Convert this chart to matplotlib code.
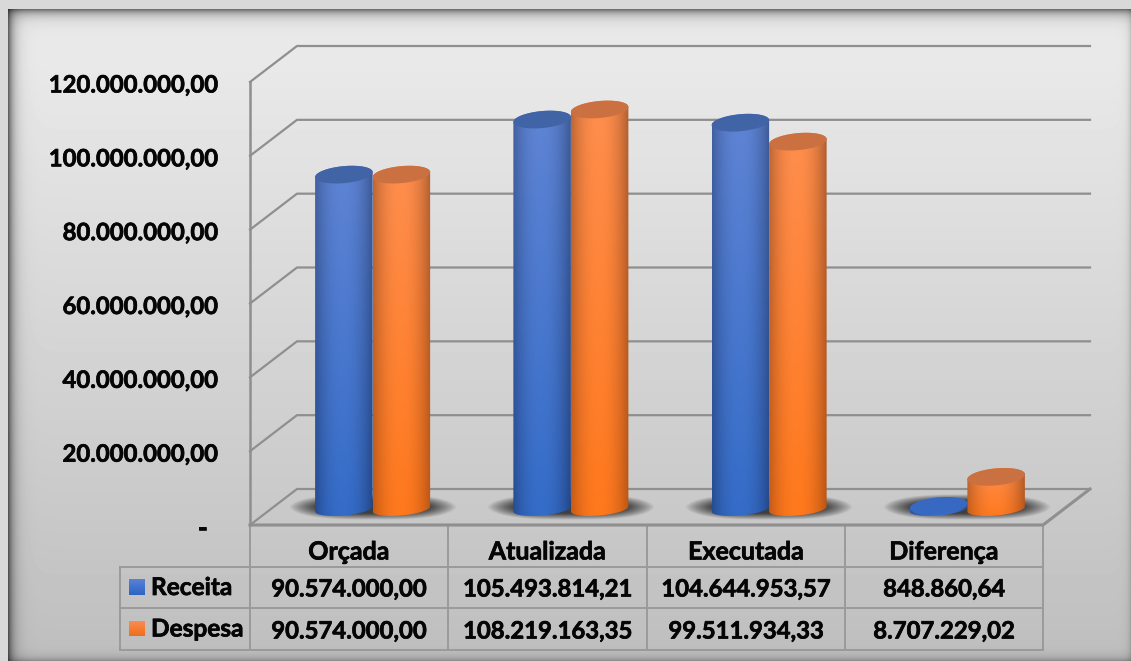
import numpy as np
import matplotlib
matplotlib.use("Agg")
import matplotlib.pyplot as plt
import matplotlib.patheffects as pe
from matplotlib.patches import Polygon

plt.rcParams['font.family'] = ['Lato', 'DejaVu Sans']

# ── Data ──────────────────────────────────────────
categories = ["Orçada", "Atualizada", "Executada", "Diferença"]
series_names = ["Receita", "Despesa"]
receita = [90574000.00, 105493814.21, 104644953.57, 848860.64]
despesa = [90574000.00, 108219163.35, 99511934.33, 8707229.02]
y_ticks = [0, 20000000, 40000000, 60000000, 80000000, 100000000, 120000000]

W, H = 1131, 661
GRID = "#8f8f8f"
INK = "#050505"
HEAVY = [pe.withStroke(linewidth=0.5, foreground=INK)]


def fmt_br(v):
    return f"{v:,.2f}".replace(",", "X").replace(".", ",").replace("X", ".")


def grad_bar(ax, verts, col_top, col_bot, edge_top, edge_bot, x0, x1, y0, y1, zorder):
    # cylinder body: dark at the sides, lighter in the middle
    u = np.linspace(0, 1, 80)
    v = np.linspace(0, 1, 60)
    prof = np.clip(np.abs(u - 0.48) / 0.52, 0, 1) ** 2.2
    img = np.zeros((60, 80, 3))
    for k in range(3):
        mid = col_top[k] + (col_bot[k] - col_top[k]) * v[:, None]
        edge = edge_top[k] + (edge_bot[k] - edge_top[k]) * v[:, None]
        img[:, :, k] = mid + (edge - mid) * prof[None, :]
    im = ax.imshow(img / 255, extent=(x0, x1, y0, y1), aspect="auto",
                   zorder=zorder, clip_on=True, interpolation="bilinear")
    patch = Polygon(verts, closed=True, transform=ax.transData, facecolor="none", edgecolor="none")
    ax.add_patch(patch)
    im.set_clip_path(patch)


fig = plt.figure(figsize=(W / 100, H / 100), dpi=100)

# ── Background panel (pixel coordinates) ──────────
bg = fig.add_axes([0, 0, 1, 1], zorder=0)
bg.set_xlim(0, W)
bg.set_ylim(H, 0)
bg.axis("off")

L, T = 8, 9
yy, xx = np.mgrid[0:H, 0:W]
base = 233 - 43 * np.clip((yy - 60) / (H - 60), 0, 1)
shade = (1 - 0.58 * np.exp(-np.clip(xx - L, 0, None) / 5.5))
shade = shade * (1 - 0.52 * np.exp(-np.clip(yy - T, 0, None) / 5.5))
shade = shade * (1 - 0.15 * np.exp(-(W - 1 - xx) / 3.0))
shade = shade * (1 - 0.25 * np.exp(-(H - 1 - yy) / 4.0))
panel = base * shade
panel[(xx < L) | (yy < T)] = 217
bg.imshow(panel, cmap="gray", vmin=0, vmax=255, extent=(0, W, H, 0), aspect="auto", zorder=0)

# ── Table ─────────────────────────────────────────
col_x = [250, 448, 647, 845, 1043]
row_y = [525, 567, 608, 650]
leg_x = 120
for y in row_y[1:]:
    bg.plot([leg_x, col_x[-1]], [y, y], color="#9a9a9a", lw=1.4, zorder=2)
bg.plot([leg_x, leg_x], [row_y[1], row_y[3]], color="#9a9a9a", lw=1.4, zorder=2)
for x in col_x:
    bg.plot([x, x], [row_y[0], row_y[3]], color="#9a9a9a", lw=1.4, zorder=2)

for i, name in enumerate(categories):
    xc = (col_x[i] + col_x[i + 1]) / 2
    bg.text(xc, 552, name, ha="center", va="center", fontsize=18,
            fontweight="bold", color=INK, zorder=3, path_effects=HEAVY)
    bg.text(xc, 589, fmt_br(receita[i]), ha="center", va="center", fontsize=17.2,
            fontweight="bold", color=INK, zorder=3, path_effects=HEAVY)
    bg.text(xc, 631, fmt_br(despesa[i]), ha="center", va="center", fontsize=17.2,
            fontweight="bold", color=INK, zorder=3, path_effects=HEAVY)

swatches = [((88, 130, 215), (45, 100, 195), 579, 595), ((250, 140, 80), (240, 110, 25), 621, 636)]
for name, (c0, c1, s0, s1) in zip(series_names, swatches):
    g = np.linspace(0, 1, 20)[:, None, None]
    img = (np.array(c0)[None, None, :] + (np.array(c1) - np.array(c0))[None, None, :] * g) / 255
    bg.imshow(img, extent=(129, 145, s1, s0), aspect="auto", zorder=3)
    bg.text(151, (s0 + s1) / 2 + 0.5, name, ha="left", va="center", fontsize=17.6,
            fontweight="bold", color=INK, zorder=3, path_effects=HEAVY)
bg.set_xlim(0, W)
bg.set_ylim(H, 0)

# ── Chart axes: front plane of the 3D box ─────────
ax = fig.add_axes([250 / W, 1 - 525 / H, (1043 - 250) / W, (525 - 82) / H], zorder=1)
ax.patch.set_alpha(0)
px_x = (1043 - 250) / 4.0            # pixels per category
px_y = (525 - 82) / 120000000.0      # pixels per unit of value
depth_x = 47 / px_x
depth_y = 36 / px_y

for v in y_ticks:
    ax.plot([0, depth_x, 4 + depth_x], [v, v + depth_y, v + depth_y],
            color=GRID, lw=1.6, clip_on=False, zorder=1)
ax.plot([0, 0], [0, 120000000], color=GRID, lw=1.8, clip_on=False, zorder=1)
ax.plot([0, 4, 4 + depth_x], [0, 0, depth_y], color=GRID, lw=2.2, clip_on=False, zorder=1)

bar_w = 57.5 / px_x
ry = 8.5 / px_y
ry_low = 6.5 / px_y
tilt = 2.5 / px_y
base_y = 16 / px_y
shift_x = 23.5 / px_x
t = np.linspace(0, 2 * np.pi, 120)

# floor shadows
sy, sx = np.mgrid[-1:1:60j, -1:1:200j]
r = (np.abs(sx) ** 3 + np.abs(sy) ** 1.8) ** 0.55
sh = np.zeros((60, 200, 4))
sh[:, :, :3] = 0.2
sh[:, :, 3] = 0.92 * np.clip((1 - r) / 0.5, 0, 1) ** 0.9
for i in range(4):
    c = i + 0.5 + shift_x
    ax.imshow(sh, extent=(c - 84 / px_x, c + 84 / px_x, 5 / px_y, 31 / px_y),
              aspect="auto", zorder=2, interpolation="bilinear", clip_on=False)

styles = [
    {"top": (95, 132, 212), "bot": (52, 108, 200), "etop": (62, 90, 150), "ebot": (35, 70, 135),
     "cap": (64, 100, 165), "flat": (55, 105, 195), "off": -0.5},
    {"top": (255, 142, 78), "bot": (255, 120, 28), "etop": (175, 95, 50), "ebot": (185, 85, 20),
     "cap": (203, 112, 64), "flat": (203, 112, 64), "off": 0.5},
]
z = 3
for i in range(4):
    for vals, st in zip([receita, despesa], styles):
        v = vals[i]
        cx = i + 0.5 + shift_x + st["off"] * bar_w
        rx = bar_w / 2
        ang = np.linspace(np.pi, 2 * np.pi, 50)
        low = np.c_[cx + rx * np.cos(ang), base_y + ry_low * np.sin(ang) + tilt * np.cos(ang)]
        ang = np.linspace(0, np.pi, 50)
        upp = np.c_[cx + rx * np.cos(ang), base_y + v + ry * np.sin(ang) + tilt * np.cos(ang)]
        grad_bar(ax, np.r_[low, upp], st["top"], st["bot"], st["etop"], st["ebot"],
                 cx - rx, cx + rx, base_y - ry - tilt, base_y + v + ry + tilt, z)
        cap = np.c_[cx + rx * np.cos(t), base_y + v + ry * np.sin(t) + tilt * np.cos(t)]
        col = st["flat"] if v < 2000000 else st["cap"]
        ax.add_patch(Polygon(cap, closed=True, facecolor=np.array(col) / 255, edgecolor="none",
                             zorder=z + 0.5))
        z += 1

ax.set_xlim(0, 4)
ax.set_ylim(0, 120000000)
ax.set_xticks([])
ax.set_yticks(y_ticks, labels=[])
ax.tick_params(axis="y", length=0)
for v in y_ticks:
    lab = "-" if v == 0 else fmt_br(v)
    off = 43 if v == 0 else 32
    ax.text(-off / px_x, v - 3 / px_y, lab, ha="right", va="center", fontsize=17.2,
            fontweight="bold", color=INK, path_effects=HEAVY, clip_on=False)
for s in ax.spines.values():
    s.set_visible(False)

fig.savefig("out.png", dpi=100)
